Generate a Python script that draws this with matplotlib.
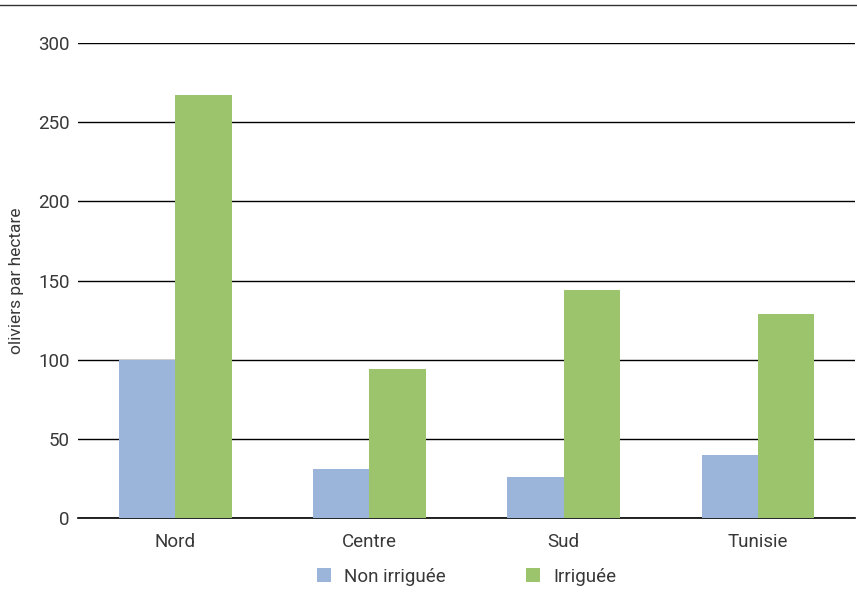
import matplotlib
matplotlib.use("Agg")
import matplotlib.pyplot as plt
import numpy as np
from matplotlib.lines import Line2D

categories = ["Nord", "Centre", "Sud", "Tunisie"]
non_irriguee = [100, 31, 26, 40]
irriguee = [267, 94, 144, 129]
series_labels = ["Non irriguée", "Irriguée"]
yticks = [0, 50, 100, 150, 200, 250, 300]

plt.rcParams['font.family'] = ['Roboto', 'DejaVu Sans']
plt.rcParams['font.weight'] = 'normal'
txt = "#383838"

fig = plt.figure(figsize=(8.57, 5.95), dpi=100)
ax = fig.add_axes([0.091, 0.1294, 0.907, 0.7983])

x = np.arange(len(categories))
w = 0.29
blue = "#9BB4D9"
green = "#9BC46C"
ax.bar(x - w/2, non_irriguee, w, color=blue, label=series_labels[0], zorder=3)
ax.bar(x + w/2, irriguee, w, color=green, label=series_labels[1], zorder=3)

ax.set_xlim(-0.5, 3.5)
ax.set_ylim(0, 300)
ax.set_yticks(yticks)
ax.yaxis.grid(True, color="black", linewidth=1.0, zorder=0)
ax.axhline(0, color="black", linewidth=1.2, zorder=2, clip_on=False)
ax.set_axisbelow(True)
for s in ax.spines.values():
    s.set_visible(False)
ax.tick_params(axis="both", length=0, labelsize=13.5, colors=txt)
ax.tick_params(axis="y", pad=6)
ax.set_xticks(x)
ax.set_xticklabels(categories)
ax.tick_params(axis="x", pad=11)
ax.set_ylabel("oliviers par hectare", fontsize=12.5, color=txt, labelpad=10)

fig.add_artist(Line2D([0, 1], [0.992, 0.992], color="#333333", linewidth=1.0, transform=fig.transFigure))

ax.legend(loc="upper center", bbox_to_anchor=(0.5, -0.069), ncol=2, frameon=False,
          prop={'size': 13.5}, handlelength=0.75, handleheight=0.75,
          columnspacing=4.3, handletextpad=0.7, labelcolor=txt)

fig.savefig("out.png", dpi=100)
